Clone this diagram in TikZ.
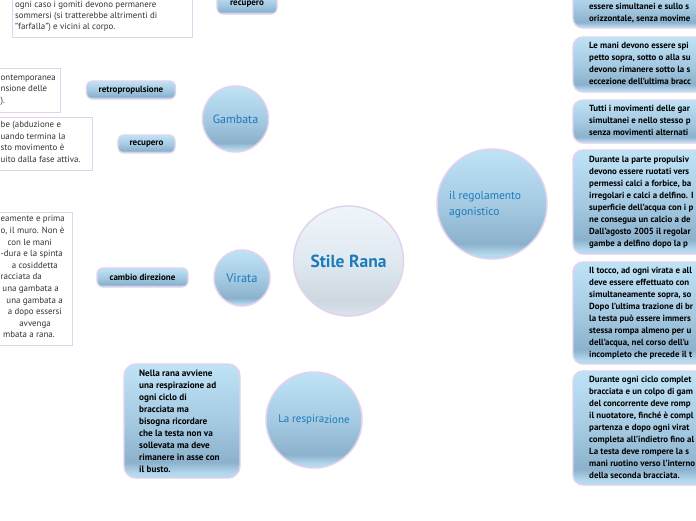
\documentclass[tikz,border=0pt]{standalone}
\usepackage{fontspec}
\setmainfont{PT Sans}
\usetikzlibrary{shadows,backgrounds}
\definecolor{lav}{HTML}{E2D2EC}
\definecolor{tblue}{HTML}{1A7BBD}
\definecolor{purp}{HTML}{7E52A0}
\definecolor{purpl}{HTML}{A98BC8}
\definecolor{lavl}{HTML}{D9C8E6}
\definecolor{btop}{HTML}{BFE3F6}
\definecolor{bmid}{HTML}{A5CAE2}
\definecolor{bdark}{HTML}{8CB1CC}
\definecolor{bband}{HTML}{B5D9EE}
\definecolor{stop}{HTML}{EFF6FB}
\definecolor{smid}{HTML}{E0E9F0}
\definecolor{sdark}{HTML}{CCD7DF}
\definecolor{sband}{HTML}{D8E2E9}
\pgfdeclareverticalshading{bub}{100bp}{color(0bp)=(bband); color(25bp)=(bband); color(27bp)=(bband); color(32bp)=(bdark); color(50bp)=(bmid); color(75bp)=(btop); color(100bp)=(btop)}
\pgfdeclareverticalshading{sbub}{100bp}{color(0bp)=(sband); color(25bp)=(sband); color(27bp)=(sband); color(32bp)=(sdark); color(50bp)=(smid); color(75bp)=(stop); color(100bp)=(stop)}
\begin{document}
\begin{tikzpicture}[x=1pt,y=-1pt,
  bubble/.style={circle, draw=lav, line width=1.5pt, shading=bub, text=tblue, inner sep=0pt},
  pill/.style={rectangle, rounded corners=6pt, draw=lav, line width=1.2pt, shading=bub, font=\bfseries\fontsize{9}{10}\selectfont, inner sep=0pt},
  bbox/.style={rectangle, rounded corners=10pt, draw=lav, line width=1.4pt, shading=bub, inner sep=0pt},
  wbox/.style={rectangle, draw=lav, line width=1pt, fill=white, inner sep=0pt, drop shadow={shadow xshift=0.8pt, shadow yshift=-0.9pt, fill=black!40, opacity=1}},
  btext/.style={font=\bfseries\fontsize{9.2}{12}\selectfont, align=left, inner sep=0pt, anchor=north west},
  rtext/.style={font=\bfseries\fontsize{8.9}{12}\selectfont, align=left, inner sep=0pt, anchor=north west},
  wline/.style={font=\fontsize{8.9}{11.5}\selectfont, text=black!80, inner sep=0pt, anchor=base east},
  wlinel/.style={font=\fontsize{8.9}{11.5}\selectfont, text=black!80, inner sep=0pt, anchor=base west},
  mainc/.style={draw=purp, line width=1.1pt},
  bund/.style={draw=purpl, line width=0.7pt},
  subc/.style={draw=purpl, line width=0.8pt},
  leaf/.style={draw=lavl, line width=1.3pt}]
\clip (0,0) rectangle (696,520);
\useasboundingbox (0,0) rectangle (696,520);
\fill[white] (0,0) rectangle (696,520);

% main circles
\node[circle, draw=lav, line width=1.5pt, shading=sbub, text=tblue, inner sep=0pt, minimum size=110pt, font=\bfseries\fontsize{17.5}{20}\selectfont] (sr) at (348.5,261) {Stile Rana};
\node[bubble, minimum size=110pt] (reg) at (492,204) {};
\node[text=tblue, font=\fontsize{11.5}{15.5}\selectfont, align=left, inner sep=0pt, anchor=west] (regt) at (449,204.5) {il regolamento\\agonistico};
\node[bubble, minimum size=66pt, font=\fontsize{12}{14}\selectfont] (gam) at (235.5,119) {Gambata};
\node[bubble, minimum size=56pt, font=\fontsize{12.5}{14}\selectfont] (vir) at (242,278) {Virata};
\node[bubble, minimum size=96pt, font=\fontsize{11}{13}\selectfont] (resp) at (314,420) {La respira\raisebox{-1pt}{zione}};

% pills
\node[pill, minimum width=60pt, minimum height=19pt] (trec) at (247,4.5) {recupero};
\node[pill, minimum width=89pt, minimum height=18pt] (retro) at (131,90) {retropropulsione};
\node[pill, minimum width=57pt, minimum height=18pt] (rec) at (146.5,144) {recupero};
\node[pill, minimum width=91pt, minimum height=19pt] (cam) at (142.5,277.5) {cambio direzione};

% white boxes
\node[wbox, minimum width=180pt, minimum height=57pt] (tbox) at (102,8.5) {};
\node[font=\fontsize{8.9}{11}\selectfont, text=black!80, align=left, inner sep=0pt, anchor=north west] (tboxt) at (15,-0.5) {\strut ogni caso i gomiti devono permanere\\sommersi (si tratterebbe altrimenti di\\"farfalla") e vicini al corpo.};
\node[wbox, minimum width=80pt, minimum height=44pt] (rbox) at (20,90) {};
\node[wlinel] (r1) at (0.5,80.2) {ontemporanea};
\node[wlinel] (r2) at (0.5,91.4) {nsione delle};
\node[wlinel] (r3) at (0.5,103) {).};
\node[wbox, minimum width=112pt, minimum height=53pt] (cbox) at (36,143.5) {};
\node[wlinel] (c1) at (0.5,127.2) {be (abduzione e};
\node[wlinel] (c2) at (0.5,139) {uando termina la};
\node[wlinel] (c3) at (0.5,150.8) {sto movimento è};
\node[wlinel] (c4) at (0.5,162.6) {uito dalla fase attiva.};
\node[wbox, minimum width=92pt, minimum height=133pt] (vbox) at (26,278.5) {};
\node[wlinel] (v1) at (0.5,221.8) {eamente e prima};
\node[wlinel] (v2) at (0.5,233.4) {o, il muro. Non è};
\node[wline] (v3) at (52,245) {con le mani};
\node[wlinel] (v4) at (0.5,256.6) {-dura e la spinta};
\node[wline] (v5) at (58,268.2) {a cosiddetta};
\node[wlinel] (v6) at (0.5,279.8) {racciata da};
\node[wline] (v7) at (59,291.4) {una gambata a};
\node[wline] (v8) at (63,303) {una gambata a};
\node[wline] (v9) at (62,314.6) {a dopo essersi};
\node[wline] (v10) at (51,326.2) {avvenga};
\node[wline] (v11) at (55,337.8) {mbata a rana.};

% respirazione box
\node[bbox, rounded corners=12pt, minimum width=116pt, minimum height=114pt] (rbx) at (182,421) {};
\node[btext] (rbxt) at (139,367.8) {\strut Nella rana avviene\\una respirazione ad\\ogni ciclo di\\bracciata ma\\bisogna ricordare\\che la testa non va\\sollevata ma deve\\rimanere in asse con\\il busto.};

% right boxes
\node[bbox, minimum width=147pt, minimum height=42pt] (ra) at (646.5,7) {};
\node[rtext] (rat) at (589,0.8) {\strut essere simultanei e sullo s\\orizzontale, senza movime};
\node[bbox, minimum width=147pt, minimum height=55pt] (rb) at (646.5,64.5) {};
\node[rtext] (rbt) at (589,40.3) {\strut Le mani devono essere spi\\petto sopra, sotto o alla su\\devono rimanere sotto la s\\eccezione dell'ultima bracc};
\node[bbox, minimum width=147pt, minimum height=43pt] (rc) at (646.5,121.5) {};
\node[rtext] (rct) at (589,103.3) {\strut Tutti i movimenti delle gar\\simultanei e nello stesso p\\senza movimenti alternati};
\node[bbox, minimum width=147pt, minimum height=104pt] (rd) at (646.5,202) {};
\node[rtext] (rdt) at (589,153.8) {\strut Durante la parte propulsiv\\devono essere ruotati vers\\permessi calci a forbice, ba\\irregolari e calci a delfino. I\\superficie dell'acqua con i p\\ne consegua un calcio a de\\Dall'agosto 2005 il regolar\\gambe a delfino dopo la p};
\node[bbox, minimum width=147pt, minimum height=102pt] (re) at (646.5,313) {};
\node[rtext] (ret) at (589,264.8) {\strut Il tocco, ad ogni virata e all\\deve essere effettuato con\\simultaneamente sopra, so\\Dopo l'ultima trazione di br\\la testa può essere immers\\stessa rompa almeno per u\\dell'acqua, nel corso dell'u\\incompleto che precede il t};
\node[bbox, minimum width=147pt, minimum height=114pt] (rf) at (646.5,428) {};
\node[rtext] (rft) at (589,373.8) {\strut Durante ogni ciclo complet\\bracciata e un colpo di gam\\del concorrente deve romp\\il nuotatore, finché è compl\\partenza e dopo ogni virat\\completa all'indietro fino al\\La testa deve rompere la s\\mani ruotino verso l'interno\\della seconda bracciata.};

\coordinate (topa) at (364,-12);
\coordinate (topb) at (290,-14);

\begin{scope}[on background layer]
\draw[mainc] (sr.32) .. controls (404,215) and (418,205) .. (reg.west);
\draw[mainc] (sr.128) .. controls (302,178) and (298,120) .. (gam.east);
\draw[mainc] (sr.82) .. controls (358,140) and (362,60) .. (topa);
\draw[mainc] (sr.194) .. controls (284,276) and (280,278) .. (vir.east);
\draw[mainc] (sr.-83) .. controls (357,370) and (366,410) .. (resp.east);
\draw[bund] (reg.east) .. controls (562,204) and (558,7) .. (ra.west);
\draw[bund] (reg.east) .. controls (562,204) and (558,64.5) .. (rb.west);
\draw[bund] (reg.east) .. controls (562,204) and (558,121.5) .. (rc.west);
\draw[bund] (reg.east) .. controls (562,204) and (558,202) .. (rd.west);
\draw[bund] (reg.east) .. controls (562,204) and (558,313) .. (re.west);
\draw[bund] (reg.east) .. controls (562,204) and (558,428) .. (rf.west);
\draw[subc] (gam.west) .. controls (188,119) and (189,90) .. (retro.east);
\draw[subc] (gam.west) .. controls (188,119) and (189,144) .. (rec.east);
\draw[subc] (trec.east) .. controls (285,4) and (286,-4) .. (topb);
\draw[leaf] (vir.west) -- (cam.east);
\draw[leaf] (cam.west) -- (vbox.east |- cam.west);
\draw[leaf] (retro.west) -- (rbox.east |- retro.west);
\draw[leaf] (rec.west) -- (cbox.east |- rec.west);
\draw[leaf] (trec.west) -- (tbox.east |- trec.west);
\draw[leaf] (rbx.east |- resp.west) -- (resp.west);
\end{scope}
\end{tikzpicture}
\end{document}
